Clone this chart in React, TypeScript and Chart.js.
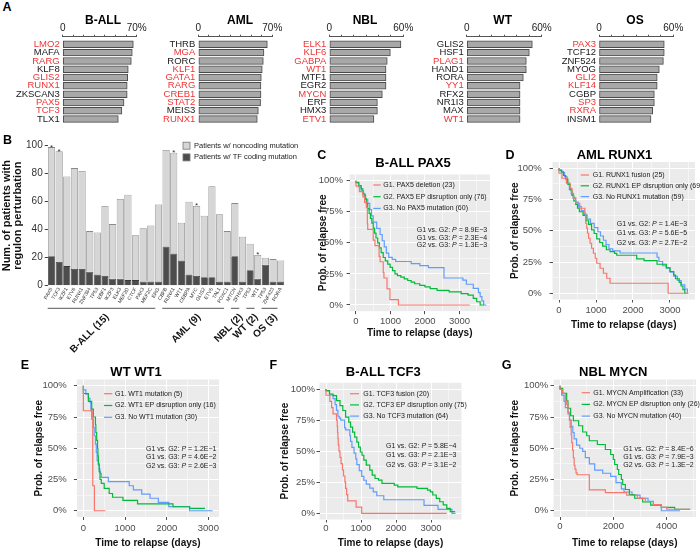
import React, { useEffect, useRef } from "react";
import { Chart, registerables } from "chart.js";

Chart.register(...registerables);

const FONT = '"Liberation Sans", Arial, Helvetica, sans-serif';
Chart.defaults.font.family = FONT;
Chart.defaults.color = "#222";

// ---------------- Panel A data ----------------
const ballTFs = ["LMO2", "MAFA", "RARG", "KLF8", "GLIS2", "RUNX1", "ZKSCAN3", "PAX5", "TCF3", "TLX1"];
const ballPct = [66.8, 65.8, 64.9, 62, 61.5, 61, 61, 58, 56, 52.6];
const ballMut = [1, 0, 1, 0, 1, 1, 0, 1, 1, 0];
const amlTFs = ["THRB", "MGA", "RORC", "KLF1", "GATA1", "RARG", "CREB1", "STAT2", "MEIS3", "RUNX1"];
const amlPct = [65.3, 62.1, 61.5, 60.5, 59.6, 59.3, 59.3, 58.9, 56.8, 55.8];
const amlMut = [0, 1, 0, 1, 1, 1, 1, 1, 0, 1];
const nblTFs = ["ELK1", "KLF6", "GABPA", "WT1", "MTF1", "EGR2", "MYCN", "ERF", "HMX3", "ETV1"];
const nblPct = [58.1, 49.5, 47, 46, 46, 46, 43, 39, 39, 36.2];
const nblMut = [1, 1, 1, 1, 0, 0, 1, 0, 0, 1];
const wtTFs = ["GLIS2", "HSF1", "PLAG1", "HAND1", "RORA", "YY1", "RFX2", "NR1I3", "MAX", "WT1"];
const wtPct = [52.5, 50.1, 47.7, 47.7, 45.3, 42.7, 42.7, 42.7, 42.7, 42.7];
const wtMut = [0, 0, 1, 0, 0, 1, 0, 0, 0, 1];
const osTFs = ["PAX3", "TCF12", "ZNF524", "MYOG", "GLI2", "KLF14", "CGBP", "SP3", "RXRA", "INSM1"];
const osPct = [52.7, 52.7, 52, 48.7, 47, 47, 44.7, 44.7, 43.4, 42];
const osMut = [1, 0, 0, 0, 1, 1, 0, 1, 1, 0];
const pctTicks70 = [0, 10, 20, 30, 40, 50, 60, 70];
const pctTicks60 = [0, 10, 20, 30, 40, 50, 60];

// ---------------- Panel B data ----------------
const bTFs = [
  "PAX5", "TCF3", "IKZF1", "ETV6", "RUNX1", "ZNF384", "TP53", "EBF1", "IKZF3", "ELK3", "MEF2D", "CTCF", "PAX3", "MEF2C", "ERG",
  "CBFB", "RUNX1", "WT1", "CEBPA", "MYC", "GLIS2", "ETV6", "TAL1", "FOXC1",
  "MYCN", "ZFHX3",
  "TP53", "WT1",
  "TP53", "ZNF423", "RORA",
];
const bCoding = [21, 17, 14, 12, 12, 10, 8, 7, 5, 5, 4, 4, 3, 3, 3, 28, 23, 18, 8, 7, 6, 6, 3, 3, 21, 3, 11, 5, 15, 3, 3];
const bNoncoding = [78, 79, 64, 72, 70, 29, 30, 50, 39, 57, 61, 32, 38, 40, 55, 69, 72, 27, 52, 50, 44, 65, 48, 36, 38, 32, 19, 17, 5, 16, 15];
const bStarred = [0, 1, 16, 19, 27];
const bGroups = ["B-ALL (15)", "AML (9)", "NBL (2)", "WT (2)", "OS (3)"];
const bGroupSizes = [15, 9, 2, 2, 3];
const bYTicks = [0, 20, 40, 60, 80, 100];

// ---------------- Kaplan-Meier data [days, % relapse free] ----------------
const survivalTicks = [0, 12.5, 25, 37.5, 50, 62.5, 75, 87.5, 100];
const daysTicks3500 = [0, 500, 1000, 1500, 2000, 2500, 3000, 3500];
const daysTicks3000 = [0, 500, 1000, 1500, 2000, 2500, 3000];
const daysTicks5000 = [0, 1000, 2000, 3000, 4000, 5000];
const pPairs = ["G1 vs. G2", "G1 vs. G3", "G2 vs. G3"];

const pax5Deletion = [[0, 100], [100, 95.7], [200, 91.3], [250, 87], [300, 82.6], [330, 78.3], [340, 65.2], [500, 60.9], [550, 52.2], [670, 47.8], [700, 39.1], [790, 34.8], [810, 26.1], [900, 21.7], [985, 13], [1230, 4.3], [3300, 0]];
const pax5EpOnly = [[0, 100], [80, 98.7], [150, 96], [200, 93.4], [260, 89.5], [300, 85.5], [340, 81.6], [380, 77.6], [420, 73.7], [460, 69.7], [500, 65.8], [540, 61.8], [580, 57.9], [630, 53.9], [680, 50], [730, 46], [790, 42.1], [850, 38.2], [920, 35.5], [990, 32.9], [1060, 30.3], [1130, 27.6], [1200, 25], [1300, 23.7], [1400, 22.4], [1500, 21], [1600, 19.7], [1700, 18.4], [1850, 17.1], [2000, 15.8], [2150, 14.5], [2350, 13.2], [2700, 11.8], [3050, 10.5], [3250, 9.2], [3400, 7.9], [3500, 5.3], [3600, 2.6], [3700, 0]];
const pax5None = [[0, 100], [80, 98.3], [150, 95], [220, 91.7], [280, 88.3], [340, 85], [400, 81.7], [450, 76.7], [500, 71.7], [600, 66.7], [700, 61.7], [760, 56.7], [820, 51.7], [880, 46.7], [950, 41.7], [1050, 38.3], [1150, 36.7], [1600, 35], [1850, 33.3], [2100, 31.7], [2550, 30], [3100, 21.7], [3200, 20], [3400, 16.7], [3550, 13.3], [3600, 10], [3650, 6.7], [3700, 3.3], [3780, 0]];
const pax5Legend = ["G1. PAX5 deletion (23)", "G2. PAX5 EP disruption only (76)", "G3. No PAX5 mutation (60)"];
const pax5P = ["8.9E\u22123", "2.3E\u22124", "1.3E\u22123"];

const runx1Fusion = [[0, 100], [80, 96], [200, 92], [300, 88], [350, 84], [390, 80], [450, 76], [560, 72], [700, 68], [720, 64], [750, 56], [770, 52], [800, 48], [840, 44], [880, 40], [930, 36], [980, 32], [1020, 28], [1110, 24], [1200, 20], [1290, 16], [1380, 12], [2950, 8], [3450, 0]];
const runx1EpOnly = [[0, 100], [60, 98.6], [120, 97.1], [180, 94.2], [240, 91.3], [300, 87], [350, 82.6], [400, 78.3], [450, 73.9], [500, 71], [550, 68.1], [650, 65.2], [730, 62.3], [800, 58], [880, 55.1], [950, 50.7], [1020, 47.8], [1100, 43.5], [1180, 40.6], [1280, 37.7], [1380, 34.8], [1500, 33.3], [1560, 31.9], [2100, 30.4], [2300, 27.5], [2650, 26.1], [2900, 23.2], [3000, 20.3], [3100, 17.4], [3150, 14.5], [3250, 11.6], [3300, 8.7], [3350, 5.8], [3400, 2.9], [3450, 0]];
const runx1None = [[0, 100], [80, 98.3], [150, 96.6], [220, 93.2], [280, 88.1], [330, 83.1], [380, 79.7], [450, 76.3], [520, 72.9], [600, 69.5], [680, 66.1], [760, 62.7], [850, 59.3], [950, 55.9], [1050, 52.5], [1120, 49.2], [1200, 45.8], [1270, 42.4], [1350, 39], [1450, 35.6], [1650, 33.9], [2650, 32.2], [2700, 28.8], [2800, 25.4], [2900, 22], [3000, 20.3], [3100, 16.9], [3200, 13.6], [3300, 10.2], [3400, 6.8], [3470, 3.4], [3500, 0]];
const runx1Legend = ["G1. RUNX1 fusion (25)", "G2. RUNX1 EP disruption only (69)", "G3. No RUNX1 mutation (59)"];
const runx1P = ["1.4E\u22123", "5.6E\u22125", "2.7E\u22122"];

const wt1Mutation = [[0, 100], [225, 80], [265, 20], [530, 0]];
const wt1EpOnly = [[0, 100], [120, 93.8], [200, 87.5], [240, 81.3], [290, 75], [300, 68.8], [320, 62.5], [340, 56.3], [350, 50], [360, 43.8], [380, 37.5], [400, 31.3], [430, 25], [500, 21.9], [620, 17.9], [700, 13.8], [950, 10.8], [1300, 8.3], [2150, 5.5], [2550, 3.2], [2620, 1.9], [2920, 1.9]];
const wt1None = [[0, 100], [60, 96.7], [120, 93.3], [160, 90], [180, 86.7], [200, 80], [240, 73.3], [260, 66.7], [290, 60], [310, 53.3], [330, 46.7], [360, 40], [380, 36.7], [400, 33.3], [430, 30], [600, 26.7], [1100, 23.3], [1200, 20], [1400, 16.7], [1600, 13.3], [1800, 10], [2050, 6.7], [2550, 3.3], [3100, 0]];
const wt1Legend = ["G1. WT1 mutation (5)", "G2. WT1 EP disruption only (16)", "G3. No WT1 mutation (30)"];
const wt1P = ["1.2E\u22121", "4.6E\u22122", "2.6E\u22123"];

const tcf3Fusion = [[0, 100], [110, 95], [160, 90], [200, 85], [300, 80], [320, 75], [330, 70], [340, 65], [350, 60], [370, 55], [400, 50], [430, 45], [470, 40], [500, 35], [540, 30], [560, 25], [590, 20], [620, 15], [860, 10], [1020, 5], [3450, 0]];
const tcf3EpOnly = [[0, 100], [100, 98.7], [200, 96], [300, 94.7], [400, 90.7], [480, 86.7], [560, 82.7], [650, 77.3], [700, 73.3], [760, 69.3], [820, 65.3], [880, 61.3], [930, 57.3], [980, 53.3], [1030, 49.3], [1080, 46.7], [1150, 42.7], [1250, 38.7], [1320, 34.7], [1400, 30.7], [1500, 28], [1600, 26.7], [1950, 24], [2050, 22.7], [2600, 21.3], [2900, 20], [2980, 18.7], [3050, 17.3], [3150, 14.7], [3250, 12], [3350, 9.3], [3450, 6.7], [3550, 4], [3650, 1.3], [3690, 1.3]];
const tcf3None = [[0, 100], [100, 98.4], [200, 95.3], [260, 92.2], [300, 87.5], [340, 82.8], [380, 78.1], [420, 76.6], [530, 75], [560, 68.8], [680, 67.2], [700, 62.5], [740, 57.8], [800, 53.1], [850, 48.4], [880, 43.8], [950, 39.1], [1020, 34.4], [1080, 29.7], [1150, 26.6], [1250, 23.4], [1350, 20.3], [1450, 17.2], [1650, 14.1], [2800, 10.9], [3200, 6.3], [3600, 3.1], [3700, 0]];
const tcf3Legend = ["G1. TCF3 fusion (20)", "G2. TCF3 EP disruption only (75)", "G3. No TCF3 mutation (64)"];
const tcf3P = ["5.8E\u22124", "2.1E\u22123", "3.1E\u22122"];

const mycnAmp = [[0, 100], [100, 97], [200, 93.9], [250, 87.9], [300, 84.8], [350, 78.8], [380, 72.7], [420, 66.7], [440, 60.6], [470, 54.5], [500, 48.5], [530, 42.4], [560, 36.4], [600, 33.3], [640, 30.3], [1100, 28.8], [1700, 16.7], [2500, 14.5], [2900, 12.4], [3200, 9.9], [3500, 7.4], [3800, 4.9], [4000, 2.7], [4600, 1.2], [4880, 1.2]];
const mycnEpOnly = [[0, 100], [100, 98], [250, 94], [300, 88], [400, 82], [500, 76], [700, 72], [850, 68], [1000, 63], [1100, 60], [1400, 56], [1700, 53], [1900, 49], [2000, 45], [2050, 41], [2150, 37], [2200, 33], [2300, 29], [2350, 25], [2450, 21], [2600, 17], [2800, 13], [3100, 10], [3400, 7], [3800, 4.5], [4300, 2.7], [4880, 1.2]];
const mycnNone = [[0, 100], [60, 97.5], [150, 92.5], [200, 87.5], [300, 82.5], [360, 77.5], [420, 72.5], [480, 67.5], [530, 62.5], [620, 57.5], [740, 52.5], [850, 50], [950, 47.5], [1100, 42.5], [1300, 37.5], [1600, 32.5], [1900, 30], [2100, 27.5], [2300, 22.5], [2400, 17.5], [2700, 15], [3000, 12.5], [3300, 10], [3500, 7.5], [3800, 5], [4500, 0]];
const mycnLegend = ["G1. MYCN Amplification (33)", "G2. MYCN EP disruption only (26)", "G3. No MYCN mutation (40)"];
const mycnP = ["8.4E\u22126", "7.9E\u22123", "1.3E\u22122"];

// ---------------- styling / layout ----------------
const RED = "#ef3535";
const KM_COLORS = ["#F8766D", "#00BA38", "#619CFF"];
const PANEL_BG = "#EBEBEB";

type Rect = { l: number; t: number; w: number; h: number };

const A_CANVAS_TOP = 20;
const A_AXIS_Y = 36.7;
const A_BOTTOM = 123.2;
const A_CANVAS_H = 114;

const regulonPanels = [
  { title: "B-ALL", tfs: ballTFs, pct: ballPct, mut: ballMut, ticks: pctTicks70, max: 70, areaL: 62.7, areaR: 136.7, canvasL: 0, titleX: 103 },
  { title: "AML", tfs: amlTFs, pct: amlPct, mut: amlMut, ticks: pctTicks70, max: 70, areaL: 198.3, areaR: 272.3, canvasL: 150, titleX: 240 },
  { title: "NBL", tfs: nblTFs, pct: nblPct, mut: nblMut, ticks: pctTicks60, max: 60, areaL: 329.3, areaR: 403.3, canvasL: 282, titleX: 365 },
  { title: "WT", tfs: wtTFs, pct: wtPct, mut: wtMut, ticks: pctTicks60, max: 60, areaL: 466.7, areaR: 541.7, canvasL: 420, titleX: 502.7 },
  { title: "OS", tfs: osTFs, pct: osPct, mut: osMut, ticks: pctTicks60, max: 60, areaL: 599, areaR: 673.3, canvasL: 552, titleX: 635 },
];

const kmPanels = [
  {
    key: "C", title: "B-ALL PAX5", curves: [pax5Deletion, pax5EpOnly, pax5None], legend: pax5Legend, pvals: pax5P,
    area: { l: 349.6, t: 174.5, r: 490, b: 311.2 }, xMin: -185, xMax: 3885, xMajor: 1000, xTicks: daysTicks3500,
    yTitleX: 323, xTitleY: 333.3, yLabelPad: 3.6, xLabelPad: 1, rightPad: 8,
    leg: { x0: 373.3, x1: 380.7, tx: 383.3, y: 185, gap: 11.7 }, pv: { x: 416.7, y: 230, gap: 7.6 },
    titlePos: { x: 413, y: 161.7 }, letter: { x: 321.7, y: 155 },
  },
  {
    key: "D", title: "AML RUNX1", curves: [runx1Fusion, runx1EpOnly, runx1None], legend: runx1Legend, pvals: runx1P,
    area: { l: 552.5, t: 162, r: 695, b: 299.5 }, xMin: -176, xMax: 3676, xMajor: 1000, xTicks: daysTicks3500,
    yTitleX: 515, xTitleY: 325, yLabelPad: 7.8, xLabelPad: 1.8, rightPad: 5,
    leg: { x0: 580.7, x1: 589, tx: 592.7, y: 175, gap: 10.8 }, pv: { x: 616.7, y: 224, gap: 9.3 },
    titlePos: { x: 614.5, y: 154.3 }, letter: { x: 510, y: 155 },
  },
  {
    key: "E", title: "WT WT1", curves: [wt1Mutation, wt1EpOnly, wt1None], legend: wt1Legend, pvals: wt1P,
    area: { l: 76.9, t: 379.5, r: 219, b: 517 }, xMin: -155, xMax: 3255, xMajor: 1000, xTicks: daysTicks3000,
    yTitleX: 39, xTitleY: 543.3, yLabelPad: 7.2, xLabelPad: 2.6, rightPad: 8,
    leg: { x0: 104, x1: 112.3, tx: 115, y: 393.7, gap: 11.8 }, pv: { x: 146, y: 449, gap: 8.3 },
    titlePos: { x: 136, y: 371 }, letter: { x: 25, y: 365 },
  },
  {
    key: "F", title: "B-ALL TCF3", curves: [tcf3Fusion, tcf3EpOnly, tcf3None], legend: tcf3Legend, pvals: tcf3P,
    area: { l: 319.5, t: 382.8, r: 461.5, b: 519.5 }, xMin: -186, xMax: 3871, xMajor: 1000, xTicks: daysTicks3500,
    yTitleX: 285, xTitleY: 543, yLabelPad: 1.5, xLabelPad: 0, rightPad: 8,
    leg: { x0: 350, x1: 359, tx: 363.3, y: 393.7, gap: 11.2 }, pv: { x: 386, y: 445.7, gap: 9.7 },
    titlePos: { x: 383.3, y: 371 }, letter: { x: 273.3, y: 365 },
  },
  {
    key: "G", title: "NBL MYCN", curves: [mycnAmp, mycnEpOnly, mycnNone], legend: mycnLegend, pvals: mycnP,
    area: { l: 553.5, t: 379.5, r: 696, b: 517 }, xMin: -244, xMax: 5099, xMajor: 2000, xTicks: daysTicks5000,
    yTitleX: 515, xTitleY: 543, yLabelPad: 2.2, xLabelPad: 1, rightPad: 4,
    leg: { x0: 581.7, x1: 590, tx: 593.3, y: 392.7, gap: 11.7 }, pv: { x: 623.3, y: 449, gap: 8 },
    titlePos: { x: 613.3, y: 371 }, letter: { x: 506.7, y: 365 },
  },
];

// ---------------- chart builders ----------------
function regulonConfig(p: any, rect: Rect) {
  return {
    type: "bar",
    data: {
      datasets: [{
        data: p.pct.map((v: number, i: number) => ({ x: v, y: i })),
        backgroundColor: "#a8a8a8",
        borderColor: "#4a4a4a",
        borderWidth: 1,
        borderSkipped: false,
        barThickness: 6.8,
      }],
    },
    options: {
      indexAxis: "y",
      animation: false,
      responsive: false,
      events: [],
      layout: { padding: { left: 0, top: 0, right: rect.l + rect.w - p.areaR, bottom: rect.t + rect.h - A_BOTTOM } },
      plugins: { legend: { display: false }, tooltip: { enabled: false }, title: { display: false } },
      scales: {
        x: {
          type: "linear", position: "top", min: 0, max: p.max, offset: false,
          afterBuildTicks: (s: any) => { s.ticks = p.ticks.map((v: number) => ({ value: v })); },
          ticks: {
            callback: (v: number) => (v === 0 ? "0" : v === p.max ? p.max + "%" : ""),
            font: { size: 10 }, color: "#222", padding: 0, maxRotation: 0, autoSkip: false,
          },
          grid: { drawOnChartArea: false, tickLength: 2, color: "#555", offset: false },
          border: { color: "#555", width: 1 },
          afterFit: (s: any) => { s.height = A_AXIS_Y - rect.t; },
        },
        y: {
          type: "linear", reverse: true, min: -0.92, max: 9.5, offset: false,
          afterBuildTicks: (s: any) => { s.ticks = p.tfs.map((_: string, i: number) => ({ value: i })); },
          ticks: {
            callback: (v: number) => p.tfs[v] ?? "",
            color: (ctx: any) => (ctx.tick && p.mut[ctx.tick.value] ? RED : "#1a1a1a"),
            font: { size: 9.5 }, padding: 3, autoSkip: false,
          },
          grid: { display: false, drawTicks: false, offset: false },
          border: { display: false },
          afterFit: (s: any) => { s.width = p.areaL - rect.l; },
        },
      },
    },
  };
}

const B_AREA = { l: 47.7, t: 145.7, r: 284.5, b: 285.7 };

function perturbConfig(rect: Rect) {
  const bDecor = {
    id: "bDecor",
    afterDraw(chart: any) {
      const { ctx } = chart;
      const xs = chart.scales.x;
      const ys = chart.scales.y;
      const hw = (xs.right - xs.left) / bTFs.length / 2;
      ctx.save();
      ctx.fillStyle = "#333";
      ctx.font = `8px ${FONT}`;
      ctx.textAlign = "center";
      ctx.textBaseline = "alphabetic";
      bStarred.forEach((i) => {
        const top = ys.getPixelForValue(bCoding[i] + bNoncoding[i]);
        ctx.fillText("*", xs.getPixelForValue(i), top + 2.5);
      });
      const legY = [145.7, 157.4];
      const legFill = ["#d6d6d6", "#4d4d4d"];
      const legText = ["Patients w/ noncoding mutation", "Patients w/ TF coding mutation"];
      for (let k = 0; k < 2; k++) {
        const y = legY[k] - rect.t;
        ctx.fillStyle = legFill[k];
        ctx.fillRect(183 - rect.l, y - 3.5, 7, 7);
        ctx.strokeStyle = "#777";
        ctx.lineWidth = 0.8;
        ctx.strokeRect(183 - rect.l, y - 3.5, 7, 7);
        ctx.fillStyle = "#222";
        ctx.font = `7.5px ${FONT}`;
        ctx.textAlign = "left";
        ctx.textBaseline = "middle";
        ctx.fillText(legText[k], 194 - rect.l, y);
      }
      let start = 0;
      bGroups.forEach((g, gi) => {
        const n = bGroupSizes[gi];
        const x0 = xs.getPixelForValue(start) - hw;
        const x1 = xs.getPixelForValue(start + n - 1) + hw - 7;
        const uy = 308.3 - rect.t;
        ctx.strokeStyle = "#555";
        ctx.lineWidth = 1;
        ctx.beginPath();
        ctx.moveTo(x0, uy);
        ctx.lineTo(x1, uy);
        ctx.stroke();
        ctx.save();
        ctx.translate((x0 + x1) / 2 + 6, 315.5 - rect.t);
        ctx.rotate(-Math.PI / 4);
        ctx.font = `bold 10px ${FONT}`;
        ctx.fillStyle = "#111";
        ctx.textAlign = "right";
        ctx.textBaseline = "middle";
        ctx.fillText(g, 0, 0);
        ctx.restore();
        start += n;
      });
      ctx.restore();
    },
  };
  return {
    type: "bar",
    data: {
      labels: bTFs,
      datasets: [
        { label: "Patients w/ TF coding mutation", data: bCoding, backgroundColor: "#4d4d4d", borderColor: "#3a3a3a", borderWidth: 0.8 },
        { label: "Patients w/ noncoding mutation", data: bNoncoding, backgroundColor: "#d6d6d6", borderColor: "#8a8a8a", borderWidth: 0.8 },
      ],
    },
    options: {
      animation: false,
      responsive: false,
      events: [],
      datasets: { bar: { barPercentage: 0.94, categoryPercentage: 1 } },
      layout: { padding: { left: 0, top: B_AREA.t - rect.t, right: rect.l + rect.w - B_AREA.r, bottom: 0 } },
      plugins: { legend: { display: false }, tooltip: { enabled: false }, title: { display: false } },
      scales: {
        x: {
          stacked: true,
          ticks: { font: { size: 5 }, color: "#333", minRotation: 60, maxRotation: 60, autoSkip: false, padding: 1 },
          grid: { display: false, drawTicks: false },
          border: { display: false },
          afterFit: (s: any) => { s.height = rect.t + rect.h - B_AREA.b; },
        },
        y: {
          stacked: true, min: 0, max: 100,
          afterBuildTicks: (s: any) => { s.ticks = bYTicks.map((v) => ({ value: v })); },
          ticks: { font: { size: 10 }, color: "#333", padding: 2 },
          grid: { drawOnChartArea: false, tickLength: 3, color: "#444" },
          border: { display: false },
          title: {
            display: true, text: ["Num. of patients with", "regulon perturbation"],
            font: { size: 11, weight: "bold", lineHeight: 1.05 }, color: "#111", padding: { top: 1, bottom: 0 },
          },
          afterFit: (s: any) => { s.width = B_AREA.l - rect.l; },
        },
      },
    },
    plugins: [bDecor],
  };
}

function kmRect(p: any): Rect {
  const l = Math.floor(p.yTitleX - 6);
  const t = Math.floor(p.area.t - 16);
  const r = Math.min(700, Math.ceil(p.area.r + p.rightPad));
  const b = Math.round(p.xTitleY + 6);
  return { l, t, w: r - l, h: b - t };
}

function kmConfig(p: any, rect: Rect) {
  const a = p.area;
  const isMajorY = (v: number) => v % 25 === 0;
  const isMajorX = (v: number) => v % p.xMajor === 0;
  const kmDecor = {
    id: "kmDecor" + p.key,
    beforeDraw(chart: any) {
      const { ctx, chartArea: c } = chart;
      ctx.save();
      ctx.fillStyle = PANEL_BG;
      ctx.fillRect(c.left, c.top, c.right - c.left, c.bottom - c.top);
      ctx.restore();
    },
    afterDatasetsDraw(chart: any) {
      const { ctx } = chart;
      ctx.save();
      ctx.textBaseline = "middle";
      ctx.textAlign = "left";
      p.legend.forEach((txt: string, i: number) => {
        const y = p.leg.y + i * p.leg.gap - rect.t;
        ctx.strokeStyle = KM_COLORS[i];
        ctx.lineWidth = 1.2;
        ctx.beginPath();
        ctx.moveTo(p.leg.x0 - rect.l, y);
        ctx.lineTo(p.leg.x1 - rect.l, y);
        ctx.stroke();
        ctx.fillStyle = "#1a1a1a";
        ctx.font = `7px ${FONT}`;
        ctx.fillText(txt, p.leg.tx - rect.l, y);
      });
      p.pvals.forEach((val: string, i: number) => {
        const y = p.pv.y + i * p.pv.gap - rect.t;
        let x = p.pv.x - rect.l;
        ctx.fillStyle = "#1a1a1a";
        const a1 = pPairs[i] + ": ";
        ctx.font = `7px ${FONT}`;
        ctx.fillText(a1, x, y);
        x += ctx.measureText(a1).width;
        ctx.font = `italic 7px ${FONT}`;
        ctx.fillText("P", x, y);
        x += ctx.measureText("P").width;
        ctx.font = `7px ${FONT}`;
        ctx.fillText(" = " + val, x, y);
      });
      ctx.restore();
    },
  };
  return {
    type: "line",
    data: {
      datasets: p.curves.map((c: number[][], i: number) => ({
        label: p.legend[i],
        data: c.map(([t, s]) => ({ x: t, y: s })),
        borderColor: KM_COLORS[i],
        borderWidth: 1.2,
        stepped: "after",
        pointRadius: 0,
        fill: false,
      })),
    },
    options: {
      animation: false,
      responsive: false,
      events: [],
      layout: { padding: { left: 0, top: a.t - rect.t, right: rect.l + rect.w - a.r, bottom: 0 } },
      plugins: { legend: { display: false }, tooltip: { enabled: false }, title: { display: false } },
      scales: {
        x: {
          type: "linear", min: p.xMin, max: p.xMax,
          afterBuildTicks: (s: any) => { s.ticks = p.xTicks.map((v: number) => ({ value: v })); },
          ticks: {
            callback: (v: number) => (isMajorX(v) ? String(v) : ""),
            font: { size: 9.5 }, color: "#4d4d4d", padding: p.xLabelPad, maxRotation: 0, autoSkip: false,
          },
          grid: {
            color: "#ffffff",
            lineWidth: (ctx: any) => (ctx.tick && isMajorX(ctx.tick.value) ? 1 : 0.5),
            tickLength: 3,
            tickColor: (ctx: any) => (ctx.tick && isMajorX(ctx.tick.value) ? "#4d4d4d" : "rgba(0,0,0,0)"),
          },
          border: { display: false },
          title: { display: true, text: "Time to relapse (days)", font: { size: 10, weight: "bold" }, color: "#111", padding: 0 },
          afterFit: (s: any) => { s.height = rect.t + rect.h - a.b; },
        },
        y: {
          type: "linear", min: -5, max: 105,
          afterBuildTicks: (s: any) => { s.ticks = survivalTicks.map((v) => ({ value: v })); },
          ticks: {
            callback: (v: number) => (isMajorY(v) ? v + "%" : ""),
            font: { size: 9.5 }, color: "#4d4d4d", padding: p.yLabelPad, autoSkip: false,
          },
          grid: {
            color: "#ffffff",
            lineWidth: (ctx: any) => (ctx.tick && isMajorY(ctx.tick.value) ? 1 : 0.5),
            tickLength: 3,
            tickColor: (ctx: any) => (ctx.tick && isMajorY(ctx.tick.value) ? "#4d4d4d" : "rgba(0,0,0,0)"),
          },
          border: { display: false },
          title: { display: true, text: "Prob. of relapse free", font: { size: 10, weight: "bold" }, color: "#111", padding: 0 },
          afterFit: (s: any) => { s.width = a.l - rect.l; },
        },
      },
    },
    plugins: [kmDecor],
  };
}

// ---------------- components ----------------
function CanvasChart({ rect, build }: { rect: Rect; build: (r: Rect) => any }) {
  const ref = useRef<HTMLCanvasElement | null>(null);
  useEffect(() => {
    if (!ref.current) return;
    const chart = new Chart(ref.current, build(rect) as any);
    return () => chart.destroy();
  }, []);
  return (
    <canvas
      ref={ref}
      width={rect.w}
      height={rect.h}
      style={{ position: "absolute", left: rect.l, top: rect.t, width: rect.w, height: rect.h }}
    />
  );
}

function Txt({ x, y, size, children }: { x: number; y: number; size: number; children: any }) {
  return (
    <div
      style={{
        position: "absolute", left: x, top: y, transform: "translate(-50%, -50%)",
        font: `bold ${size}px ${FONT}`, lineHeight: 1, whiteSpace: "nowrap", color: "#000",
      }}
    >
      {children}
    </div>
  );
}

export default function App() {
  const bRect: Rect = { l: 0, t: 128, w: 300, h: 228 };
  return (
    <div style={{ position: "absolute", left: 0, top: 0, width: 700, height: 549, overflow: "hidden", background: "#fff" }}>
      {regulonPanels.map((p) => {
        const rect: Rect = { l: p.canvasL, t: A_CANVAS_TOP, w: Math.ceil(p.areaR + 14) - p.canvasL, h: A_CANVAS_H };
        return <CanvasChart key={p.title} rect={rect} build={(r) => regulonConfig(p, r)} />;
      })}
      <CanvasChart rect={bRect} build={(r) => perturbConfig(r)} />
      {kmPanels.map((p) => (
        <CanvasChart key={p.key} rect={kmRect(p)} build={(r) => kmConfig(p, r)} />
      ))}
      <Txt x={7} y={7} size={12.5}>A</Txt>
      <Txt x={7.5} y={139.5} size={12.5}>B</Txt>
      {regulonPanels.map((p) => (
        <Txt key={"t" + p.title} x={p.titleX} y={20} size={12}>{p.title}</Txt>
      ))}
      {kmPanels.map((p) => (
        <React.Fragment key={"l" + p.key}>
          <Txt x={p.letter.x} y={p.letter.y} size={12.5}>{p.key}</Txt>
          <Txt x={p.titlePos.x} y={p.titlePos.y} size={13}>{p.title}</Txt>
        </React.Fragment>
      ))}
    </div>
  );
}
